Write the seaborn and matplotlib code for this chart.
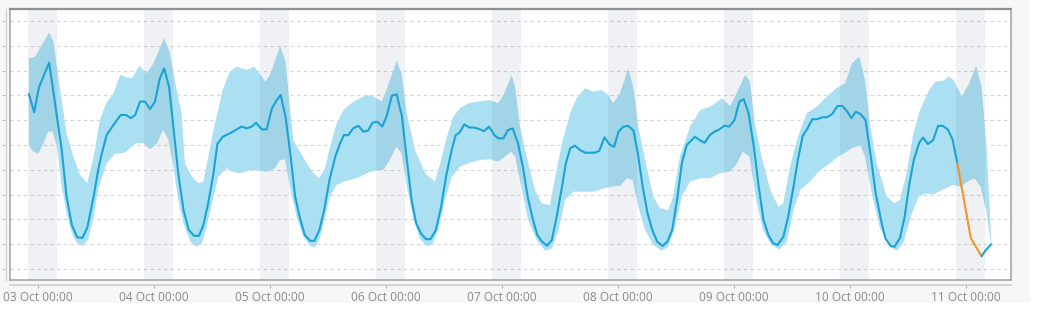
import numpy as np
import pandas as pd
import matplotlib
matplotlib.use("Agg")
import matplotlib.pyplot as plt
import matplotlib.dates as mdates
from matplotlib.patches import Rectangle
import seaborn as sns

# ---------------- data (hours after 03 Oct 00:00) ----------------
base = pd.Timestamp("2023-10-03 00:00")
day_ticks = ["03 Oct", "04 Oct", "05 Oct", "06 Oct", "07 Oct", "08 Oct", "09 Oct", "10 Oct", "11 Oct"]

mean_hours = [-1.9, -0.8, 0.2, 2.3, 4.9, 5.9, 7.0, 8.1, 9.2, 10.2, 11.5, 12.5, 13.2, 14.2, 15.6, 17.1, 18.2, 19.2, 20.1, 21.1, 22.1, 23.2,
              24.2, 25.2, 26.1, 27.1, 28.0, 29.0, 30.1, 31.2, 32.3, 33.3, 34.2, 35.2, 36.3, 37.1, 38.2, 39.7, 41.1, 42.1, 43.2, 44.2, 45.1, 46.3, 47.3,
              48.4, 49.4, 50.2, 51.2, 52.1, 53.2, 54.2, 55.2, 56.3, 57.2, 58.2, 59.2, 60.3, 61.5, 62.5, 63.3, 64.2, 65.2, 66.3, 67.3, 68.3, 69.2, 70.2, 71.2,
              72.1, 73.2, 74.2, 75.3, 76.3, 77.3, 78.2, 79.2, 80.3, 81.2, 82.3, 83.4, 84.4, 85.5, 86.4, 87.2, 88.2, 89.2, 90.2, 91.2, 92.3, 93.3, 94.4, 95.2,
              96.3, 97.2, 98.2, 99.3, 100.3, 101.3, 102.4, 103.3, 104.3, 105.3, 106.3, 107.3, 108.4, 109.2, 110.1, 111.1, 112.1, 113.2, 114.2, 115.2, 116.1, 117.2, 118.2, 119.2,
              120.1, 121.1, 122.1, 123.2, 124.1, 125.1, 126.1, 127.1, 128.1, 129.2, 130.2, 131.2, 132.2, 133.2, 134.2, 134.9, 135.9, 136.9, 137.9, 139.0, 140.0, 141.0, 142.0, 143.0,
              144.1, 145.1, 146.0, 147.0, 148.1, 149.1, 150.1, 151.1, 152.1, 153.0, 154.2, 155.2, 156.3, 157.2, 158.2, 159.2, 160.2, 161.2, 162.3, 163.3, 164.3, 165.4, 166.4, 167.3,
              168.3, 169.2, 170.2, 171.2, 172.3, 173.3, 174.4, 175.3, 176.4, 177.2, 178.3, 179.3, 180.3, 181.2, 182.3, 183.1, 184.1, 185.2, 186.2, 187.2, 188.2, 189.2, 190.2,
              193.0, 195.2, 196.1, 197.2]
mean_values = [7.06, 6.32, 7.33, 8.32, 4.80, 2.92, 1.77, 1.28, 1.26, 1.68, 2.92, 4.06, 4.66, 5.40, 5.81, 6.21, 6.21, 6.08, 6.21, 6.75, 6.75, 6.45,
               6.75, 7.69, 8.09, 7.35, 5.74, 3.86, 2.38, 1.57, 1.34, 1.34, 1.77, 2.65, 3.86, 5.04, 5.33, 5.47, 5.63, 5.74, 5.67, 5.74, 5.90, 5.63, 5.63,
               6.48, 6.81, 7.02, 6.14, 4.80, 2.92, 2.04, 1.37, 1.14, 1.14, 1.57, 2.38, 3.59, 4.53, 5.07, 5.40, 5.40, 5.67, 5.77, 5.54, 5.58, 5.90, 5.94, 5.74,
               6.14, 6.99, 7.04, 6.14, 4.40, 2.78, 1.87, 1.44, 1.20, 1.21, 1.57, 2.51, 3.72, 4.73, 5.40, 5.50, 5.83, 5.71, 5.70, 5.65, 5.56, 5.74, 5.40, 5.27,
               5.27, 5.60, 5.67, 5.07, 4.13, 2.92, 1.98, 1.37, 1.10, 0.94, 1.17, 2.11, 3.32, 4.26, 4.87, 4.97, 4.80, 4.69, 4.69, 4.69, 4.76, 5.31, 5.03, 4.93,
               5.54, 5.74, 5.77, 5.58, 4.66, 3.32, 2.25, 1.57, 1.10, 0.93, 1.10, 1.57, 2.78, 4.26, 5.00, 5.13, 5.33, 5.20, 5.09, 5.40, 5.54, 5.63, 5.78, 5.74,
               6.01, 6.75, 6.85, 6.28, 4.93, 3.32, 1.98, 1.37, 1.04, 0.97, 1.30, 2.11, 3.32, 4.40, 5.36, 5.67, 6.04, 6.04, 6.12, 6.12, 6.25, 6.57, 6.57, 6.38,
               6.08, 6.34, 6.24, 6.01, 4.53, 3.05, 1.98, 1.24, 0.93, 0.90, 1.24, 2.11, 3.46, 4.40, 5.09, 5.30, 5.04, 5.20, 5.77, 5.77, 5.63, 5.23, 4.26,
               1.24, 0.52, 0.77, 1.00]

# anomalous stretch (drawn orange)
anomaly_start = 190.2
anomaly_end = 195.2

upper_hours = [-1.9, -0.6, 2.3, 3.2, 3.9, 4.9, 5.9, 7.3, 8.7, 10.2, 11.5, 12.8, 14.1, 15.6, 17.0, 18.2, 19.4, 21.0, 22.5, 23.9,
               26.1, 27.3, 28.4, 29.7, 30.4, 31.8, 33.2, 34.2, 36.3, 38.2, 39.7, 41.1, 43.2, 44.6, 45.6, 47.0,
               48.0, 50.1, 51.2, 52.8, 54.2, 55.6, 57.0, 58.1, 59.4, 60.4, 61.8, 63.2, 64.6, 65.9, 68.0, 69.4, 71.1,
               72.1, 74.2, 75.2, 76.3, 78.0, 80.1, 82.1, 83.2, 84.6, 85.9, 87.3, 89.0, 91.1, 93.5, 95.2,
               96.3, 98.0, 98.7, 99.7, 101.1, 102.8, 104.2, 105.9, 107.0, 108.4, 110.1, 111.4, 113.2, 114.9, 116.6, 118.0, 119.0,
               120.4, 122.1, 123.2, 124.2, 125.6, 127.3, 128.7, 130.4, 131.4, 132.8, 134.9, 137.0, 139.0, 141.5, 143.2,
               144.2, 146.3, 147.3, 148.3, 149.7, 151.5, 153.2, 154.2, 155.6, 157.0, 159.0, 161.1, 163.2, 165.2, 167.0,
               168.4, 169.9, 171.1, 172.1, 173.5, 175.6, 177.1, 178.3, 179.7, 181.1, 182.5, 184.2, 185.6, 187.3, 188.4, 189.4,
               191.1, 192.5, 194.1, 195.2, 196.3, 197.2]
upper_values = [8.49, 8.56, 9.54, 9.17, 8.16, 6.81, 5.47, 4.53, 3.79, 3.46, 4.53, 6.01, 6.68, 7.08, 7.82, 7.73, 7.69, 8.19, 7.89, 8.29,
                9.30, 8.70, 7.49, 6.28, 4.26, 3.72, 3.46, 3.52, 5.60, 7.22, 7.96, 8.16, 8.02, 8.16, 7.96, 7.55,
                7.82, 8.99, 8.36, 5.20, 4.73, 4.26, 3.86, 3.66, 4.06, 4.93, 5.87, 6.41, 6.65, 6.81, 7.02, 6.95, 6.75,
                7.22, 8.39, 7.89, 6.28, 4.80, 3.86, 3.52, 4.26, 5.33, 6.14, 6.48, 6.68, 6.75, 6.81, 6.68,
                7.02, 7.82, 7.35, 5.74, 4.53, 3.19, 2.65, 2.58, 3.72, 5.07, 6.28, 6.88, 7.29, 7.15, 7.22, 7.02, 6.68,
                7.08, 8.09, 7.29, 5.74, 4.40, 2.92, 2.45, 2.38, 2.92, 4.53, 5.74, 6.41, 6.54, 6.88, 6.57,
                6.95, 7.82, 7.55, 5.87, 4.53, 3.19, 2.51, 2.65, 4.13, 5.20, 6.28, 6.54, 6.95, 7.29, 7.49,
                8.29, 8.56, 7.62, 5.87, 4.26, 2.92, 2.65, 2.78, 3.86, 5.47, 6.41, 7.15, 7.55, 7.59, 7.75, 7.62,
                6.95, 7.42, 8.19, 7.35, 4.80, 1.17]

lower_hours = [-1.9, -1.0, 0.1, 1.1, 2.1, 3.0, 3.9, 4.9, 5.9, 7.0, 8.1, 9.2, 10.4, 11.5, 12.5, 14.2, 15.9, 18.0, 19.4, 20.4, 21.8, 23.2,
               24.6, 25.9, 27.0, 28.0, 29.0, 30.1, 31.5, 32.8, 33.9, 34.9, 36.3, 37.3, 39.0, 40.1, 41.8, 43.9, 45.9, 47.3,
               49.0, 50.1, 51.1, 52.1, 53.5, 54.9, 56.3, 57.3, 58.3, 59.4, 60.4, 61.8, 63.2, 64.6, 66.6, 68.7, 70.2, 71.4,
               72.8, 74.1, 75.2, 76.3, 77.7, 79.0, 80.3, 81.5, 82.8, 84.2, 85.6, 87.3, 89.4, 91.5, 93.5, 95.2,
               96.6, 97.8, 98.7, 100.1, 101.4, 103.2, 104.9, 106.3, 107.7, 109.0, 110.8, 112.8, 114.9, 117.0, 118.7,
               120.4, 121.8, 123.0, 124.2, 125.6, 127.3, 129.0, 130.4, 131.8, 133.2, 134.9, 137.0, 139.0, 141.0, 143.0,
               144.4, 145.8, 147.2, 148.6, 150.0, 151.7, 153.4, 154.9, 156.3, 157.7, 159.7, 161.8, 163.9, 165.5, 167.0,
               168.4, 170.1, 171.1, 172.5, 174.2, 176.3, 177.7, 179.0, 180.8, 182.2, 183.6, 185.3, 187.1, 189.2,
               190.9, 192.3, 193.7, 195.0, 196.3, 197.2]
lower_values = [5.00, 4.73, 4.66, 5.07, 5.54, 5.54, 4.93, 3.32, 2.25, 1.44, 1.04, 0.93, 1.20, 2.11, 3.25, 4.26, 4.64, 4.69, 4.93, 5.09, 5.07, 4.83,
                5.07, 5.60, 5.20, 4.13, 2.78, 1.84, 1.10, 0.90, 1.04, 1.71, 2.92, 3.72, 4.06, 3.92, 3.86, 3.99, 3.96, 3.92,
                4.06, 4.40, 4.42, 3.32, 2.11, 1.30, 0.93, 0.87, 1.24, 2.11, 2.92, 3.39, 3.52, 3.59, 3.72, 3.92, 3.99, 3.99,
                4.40, 4.93, 4.66, 3.32, 1.98, 1.24, 0.93, 0.97, 1.57, 2.78, 3.72, 4.13, 4.29, 4.40, 4.42, 4.33,
                4.53, 4.73, 4.53, 3.19, 1.98, 1.17, 0.74, 0.83, 1.57, 2.78, 3.12, 3.12, 3.12, 3.25, 3.32,
                3.35, 3.66, 3.59, 2.51, 1.57, 0.97, 0.74, 0.90, 1.71, 2.92, 3.52, 3.66, 3.66, 3.86, 3.92,
                4.19, 4.73, 4.53, 2.78, 1.57, 0.97, 0.79, 1.10, 2.38, 3.19, 3.52, 3.99, 4.26, 4.53, 4.69,
                4.87, 5.00, 4.53, 3.05, 1.64, 0.90, 0.74, 1.04, 2.25, 2.92, 3.05, 3.02, 3.19, 3.39,
                3.32, 3.52, 3.66, 3.32, 2.25, 0.90]

# night shading: from 22:00 to 04:00 around each midnight
night_start_offset = -2.0
night_end_offset = 4.0

# ---------------- helpers ----------------
def to_dt(hours):
    return base + pd.to_timedelta(np.asarray(hours, dtype=float), unit="h")

mean_df = pd.DataFrame({"time": to_dt(mean_hours), "hours": mean_hours, "value": mean_values})
upper_t = mdates.date2num(to_dt(upper_hours).to_pydatetime())
lower_t = mdates.date2num(to_dt(lower_hours).to_pydatetime())

# ---------------- figure ----------------
sns.set_style("white")
plt.rcParams["font.family"] = ["Open Sans", "DejaVu Sans"]

W, H = 1039, 318
fig = plt.figure(figsize=(W / 100, H / 100), dpi=100)
fig.patch.set_facecolor("white")
fig.add_artist(Rectangle((0, 15 / H), 1030 / W, 1 - 15 / H, transform=fig.transFigure,
                         facecolor="#f7f7f7", edgecolor="none", zorder=-5))

ax = fig.add_axes([10 / W, 38 / H, 1001 / W, 271 / H])
ax.set_facecolor("white")

band_color = "#abdff2"
line_color = "#1aa3d4"
anom_color = "#f39323"

# band
ax.fill(np.concatenate([upper_t, lower_t[::-1]]),
        np.concatenate([upper_values, np.asarray(lower_values)[::-1]]),
        color=band_color, lw=0, zorder=1)

# night shading
for i in range(len(day_ticks)):
    mid = base + pd.Timedelta(days=i)
    ax.axvspan(mid + pd.Timedelta(hours=night_start_offset), mid + pd.Timedelta(hours=night_end_offset),
               color="#1f3a5a", alpha=0.065, lw=0, zorder=2)

# mean line
part1 = mean_df[mean_df["hours"] <= anomaly_start]
part2 = mean_df[(mean_df["hours"] >= anomaly_start) & (mean_df["hours"] <= anomaly_end)]
part3 = mean_df[mean_df["hours"] >= anomaly_end]
for part, col in [(part1, line_color), (part2, anom_color), (part3, line_color)]:
    sns.lineplot(data=part, x="time", y="value", ax=ax, color=col, lw=1.5, zorder=4,
                 sort=False, estimator=None)

# axes limits
ax.set_xlim(base + pd.Timedelta(hours=-5.8), base + pd.Timedelta(hours=201.3))
ax.set_ylim(-0.44, 10.48)
ax.set_xlabel("")
ax.set_ylabel("")

# grid
ax.set_yticks(np.arange(0, 11, 1))
ax.yaxis.grid(True, color="#d4d4d4", lw=0.8, ls=(0, (3, 3)), zorder=0)
ax.xaxis.grid(False)
ax.set_axisbelow(True)
ax.tick_params(axis="both", which="both", length=0, labelleft=False, labelbottom=False)
for s in ax.spines.values():
    s.set_color("#a0a0a0")
    s.set_linewidth(1.1)
ax.spines["top"].set_color("#909090")
ax.spines["top"].set_linewidth(1.6)

# detached bottom axis with date labels
tick_dates = [base + pd.Timedelta(days=i) for i in range(len(day_ticks))]
sec_x = ax.secondary_xaxis(-5 / 271)
sec_x.set_xticks(tick_dates)
sec_x.set_xticklabels([f"{d} 00:00" for d in day_ticks])
sec_x.tick_params(axis="x", length=2, width=0.8, color="#b0b0b0", labelcolor="#8a8a8a",
                  labelsize=8.6, pad=2)
sec_x.spines["bottom"].set_color("#cfcfcf")
sec_x.spines["bottom"].set_linewidth(1.2)

# detached left axis with tick marks only
sec_y = ax.secondary_yaxis(-4 / 1001)
sec_y.set_yticks(np.arange(0, 11, 1))
sec_y.tick_params(axis="y", length=3, width=0.8, color="#c0c0c0", labelleft=False)
sec_y.spines["left"].set_color("#d4d4d4")
sec_y.spines["left"].set_linewidth(1.0)

fig.savefig("out.png", dpi=100, facecolor=fig.get_facecolor())
